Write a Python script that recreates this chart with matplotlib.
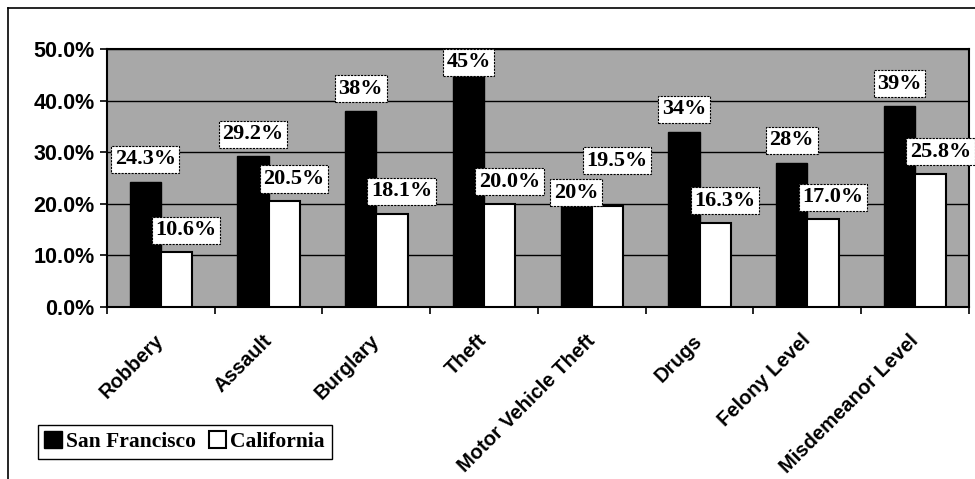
import numpy as np
from matplotlib import pyplot as plt
from matplotlib.lines import Line2D

plt.close("all")

categories = ["Robbery", "Assault", "Burglary", "Theft", "Motor Vehicle Theft",
              "Drugs", "Felony Level", "Misdemeanor Level"]
sf_values = [24.3, 29.2, 38, 45, 20, 34, 28, 39]
ca_values = [10.6, 20.5, 18.1, 20.0, 19.5, 16.3, 17.0, 25.8]
sf_labels = ["24.3%", "29.2%", "38%", "45%", "20%", "34%", "28%", "39%"]
ca_labels = ["10.6%", "20.5%", "18.1%", "20.0%", "19.5%", "16.3%", "17.0%", "25.8%"]
y_ticks = [0, 10, 20, 30, 40, 50]

# label offsets (points) that Excel shuffled to avoid overlap
nudge = {("sf", 4): -8, ("ca", 4): 17}

fig = plt.figure(figsize=(9.75, 4.79), dpi=100)
ax = fig.add_axes([0.1097, 0.359, 0.8841, 0.5387])

x = np.arange(len(categories))
w = 0.29
ax.set_facecolor("#a8a8a8")
ax.bar(x - w / 2, sf_values, w, color="black", edgecolor="black", lw=1, zorder=3,
       label="San Francisco")
ax.bar(x + w / 2, ca_values, w, color="white", edgecolor="black", lw=1.5, zorder=3,
       label="California")

ax.set_xlim(-0.5, len(categories) - 0.5)
ax.set_ylim(0, 50)
ax.set_yticks(y_ticks)
ax.set_yticklabels([f"{v:.1f}%" for v in y_ticks])
ax.yaxis.grid(True, color="black", lw=1, zorder=1)
ax.set_axisbelow(True)

ax.set_xticks(np.arange(len(categories) + 1) - 0.5)
ax.set_xticklabels([])
ax.set_xticks(x, minor=True)
ax.set_xticklabels(categories, minor=True, rotation=45, ha="right", va="center",
                   rotation_mode="anchor", fontsize=14.5, fontweight="bold",
                   family="Liberation Sans")
ax.tick_params(axis="x", which="minor", length=0, pad=22)
ax.tick_params(axis="x", which="major", length=5, width=1.2, direction="out")
ax.tick_params(axis="y", length=5, width=1.2, pad=4, labelsize=15.5)
for t in ax.get_yticklabels():
    t.set_fontweight("bold")
    t.set_family("Liberation Sans")
for s in ax.spines.values():
    s.set_linewidth(1.5)

box = dict(boxstyle="square,pad=0.16", fc="white", ec="black", lw=0.8, ls=(0, (2, 1)))
for i in x:
    for key, vals, labs, dx, off in [("sf", sf_values, sf_labels, -w / 2, 0),
                                     ("ca", ca_values, ca_labels, w / 2, 7)]:
        v = vals[i]
        dy = 16 + nudge.get((key, i), 0)
        t = ax.annotate(labs[i], (i + dx, v), xytext=(off, dy), textcoords="offset points",
                        ha="center", va="center", fontsize=16, fontweight="bold",
                        family="Liberation Serif", bbox=box, zorder=5)
        if v > 42:
            t.xyann = (off, 9)

fig.legend(loc="upper left", bbox_to_anchor=(0.039, 0.113), ncol=2,
           prop={"family": "Liberation Serif", "weight": "bold", "size": 15.5},
           frameon=True, fancybox=False, edgecolor="black", framealpha=1,
           handlelength=0.8, handleheight=0.8, handletextpad=0.2, columnspacing=0.6,
           borderpad=0.3, borderaxespad=0)

fig.add_artist(Line2D([8 / 975, 1], [1 - 8 / 479] * 2, color="black", lw=1.2))
fig.add_artist(Line2D([8 / 975] * 2, [0, 1 - 8 / 479], color="black", lw=1.2))

fig.savefig("out.png", dpi=100)
